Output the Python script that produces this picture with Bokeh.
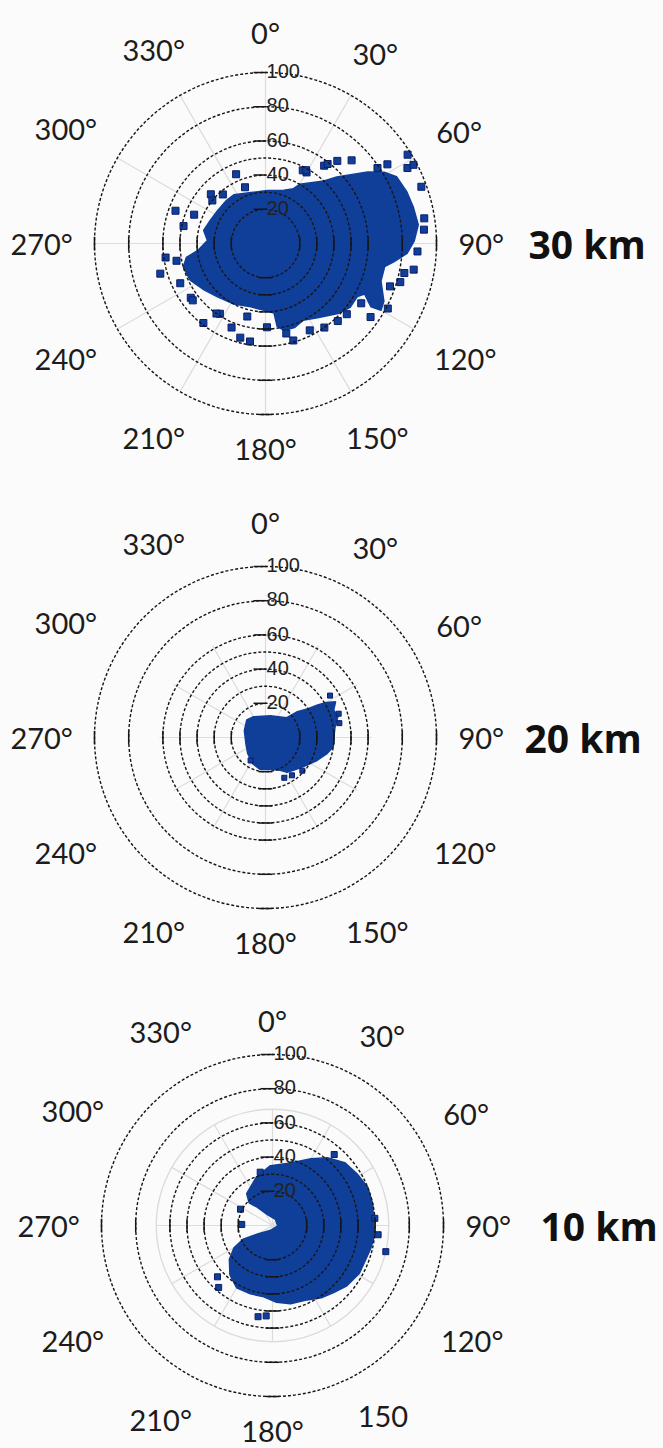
import math

from bokeh.core.properties import value
from bokeh.embed import file_html
from bokeh.layouts import column
from bokeh.models import ColumnDataSource, Range1d
from bokeh.plotting import figure
from bokeh.resources import INLINE

# ---------------------------------------------------------------- data
ANGLE_TICKS = [0, 30, 60, 90, 120, 150, 180, 210, 240, 270, 300, 330]
ANGLE_LABELS = ["0°", "30°", "60°", "90°", "120°", "150°",
                "180°", "210°", "240°", "270°", "300°", "330°"]
ANGLE_LABELS_10KM = ["0°", "30°", "60°", "90°", "120°", "150",
                     "180°", "210°", "240°", "270°", "300°", "330°"]
RING_RADII = [20, 30, 40, 50, 60, 80, 100]
RADIAL_TICKS = [20, 40, 60, 80, 100]
PANEL_NAMES = ["30 km", "20 km", "10 km"]

# outline of the dense point cloud (bearing in degrees, radius) and scattered points
C30_EDGE_DEG = [327, 344, 2, 19, 27, 30, 43, 47, 51, 55, 59, 63, 70, 76, 83, 89, 94, 98,
                101, 108, 116, 120, 121, 117, 120, 127, 134, 145, 154, 161, 168, 172, 173,
                182, 193, 208, 222, 233, 244, 254, 260, 264, 273, 282, 293, 304, 318]
C30_EDGE_R = [34, 31, 31, 33, 36, 40, 50, 57, 64, 73, 81, 86, 88, 89, 90, 87, 83, 76,
              71, 71, 77, 78, 72, 65, 62, 62, 59, 53, 50, 52, 52, 49, 41,
              39, 38, 40, 42, 45, 49, 50, 47, 40, 34, 37, 35, 34, 34]
C30_DOT_DEG = [337, 312, 290, 282, 262, 254, 234, 218, 213, 202, 195, 189, 167, 37, 30,
               41, 58, 62, 56, 81, 100, 106, 118, 122, 292, 46, 27, 153, 137,
               309, 319, 340, 29, 38, 57, 62, 70, 85, 93, 102, 109, 125, 131, 145,
               164, 179, 194, 215, 232, 245, 259]
C30_DOT_R = [44, 43, 56, 49, 59, 64, 54, 59, 49, 53, 57, 58, 54, 57, 48,
             64, 98, 94, 79, 94, 88, 82, 81, 66, 45, 70, 48, 57, 62,
             40, 38, 35, 49, 59, 85, 98, 97, 93, 89, 83, 77, 75, 63, 60,
             59, 49, 44, 50, 54, 55, 53]

C20_EDGE_DEG = [313, 330, 13, 47, 51, 56, 58, 60, 63, 68, 74, 82, 90, 98, 105, 114, 124,
                135, 148, 156, 171, 189, 207, 228, 253, 288]
C20_EDGE_R = [15, 14, 13, 17, 24, 30, 36, 41, 46, 43, 44, 41, 40, 40, 37, 33, 29,
              26, 24, 21, 19, 19, 17, 14, 12, 13]
C20_DOT_DEG = [57, 72, 79, 213, 145, 132, 155]
C20_DOT_R = [45, 45, 44, 16, 27, 29, 26]

C10_EDGE_DEG = [321, 342, 358, 16, 30, 39, 49, 59, 68, 78, 87, 95, 103, 111, 119, 129,
                138, 146, 155, 167, 177, 187, 198, 210, 221, 232, 240, 245, 240, 200,
                94, 25, 335, 320, 314]
C10_EDGE_R = [24, 30, 35, 38, 45, 51, 56, 58, 60, 60, 59, 60, 59, 58, 58, 56,
              53, 51, 48, 47, 45, 42, 42, 42, 38, 32, 26, 19, 10, 3,
              3, 4, 7, 14, 19]
C10_DOT_DEG = [347, 297, 272, 41, 95, 103, 227, 221, 189, 184, 86]
C10_DOT_R = [32, 21, 18, 55, 62, 68, 44, 48, 54, 53, 60]

# ---------------------------------------------------------------- styling
PX = 1.71                 # screen pixels per radial unit
WIDTH = 663
BG = "#fbfbfb"
CLOUD = "#103f9a"
DOT_LINE = "#0b1d6b"
RING = "#161616"
SPOKE = "#dcdcdc"
LABEL_FONT = "Lato"
LABEL_SIZE = 29


def polar(deg, r):
    xs = [ri * math.sin(math.radians(d)) for d, ri in zip(deg, r)]
    ys = [ri * math.cos(math.radians(d)) for d, ri in zip(deg, r)]
    return xs, ys


def label_positions(labels, top_extra):
    """Centre of each bearing label, pushed out by the label's own extent."""
    xs, ys = [], []
    for deg, txt in zip(ANGLE_TICKS, labels):
        digits = sum(ch.isdigit() for ch in txt)
        w = digits * 0.56 * LABEL_SIZE + (0.38 * LABEL_SIZE if "°" in txt else 0)
        s, c = math.sin(math.radians(deg)), math.cos(math.radians(deg))
        dist = 194 + 6 * abs(math.sin(math.radians(2 * deg))) + abs(s) * w / 2 + abs(c) * 11
        if deg == 0:
            dist += top_extra
        xs.append(dist * s / PX)
        ys.append(dist * c / PX)
    return xs, ys


def panel(name, name_left, labels, top_extra, edge_deg, edge_r, dot_deg, dot_r, dot_size,
          height, cx, cy, spoke_len, grey_ring):
    p = figure(width=WIDTH, height=height,
               x_range=Range1d(-cx / PX, (WIDTH - cx) / PX),
               y_range=Range1d(-(height - cy) / PX, cy / PX),
               x_axis_type=None, y_axis_type=None,
               output_backend="svg", toolbar_location=None, min_border=0)
    p.background_fill_color = BG
    p.border_fill_color = BG
    p.outline_line_color = None
    p.grid.visible = False

    # faint spokes every 30 degrees
    sx, sy = polar(ANGLE_TICKS, [spoke_len] * len(ANGLE_TICKS))
    p.segment(x0=[0] * len(sx), y0=[0] * len(sy), x1=sx, y1=sy,
              line_color=SPOKE, line_width=1.2)
    if grey_ring:
        p.circle(x=[0], y=[0], radius=[grey_ring], fill_color=None,
                 line_color=SPOKE, line_width=1.4)

    # point cloud
    ex, ey = polar(edge_deg, edge_r)
    p.patch(ex, ey, fill_color=CLOUD, line_color=CLOUD, line_width=1.5)
    dx, dy = polar(dot_deg, dot_r)
    p.scatter(dx, dy, marker="square", size=dot_size, fill_color=CLOUD,
              line_color=DOT_LINE, line_width=1)

    # dotted range rings with solid ticks on the cardinal directions
    n = len(RING_RADII)
    p.circle(x=[0] * n, y=[0] * n, radius=RING_RADII, fill_color=None,
             line_color=RING, line_width=1.4, line_dash="3 2")
    r = RING_RADII
    p.segment(x0=[-4] * n, y0=[-v for v in r], x1=[4] * n, y1=[-v for v in r],
              line_color=RING, line_width=1.5)
    p.segment(x0=r, y0=[-4] * n, x1=r, y1=[4] * n, line_color=RING, line_width=1.5)
    p.segment(x0=[-v for v in r], y0=[-4] * n, x1=[-v for v in r], y1=[4] * n,
              line_color=RING, line_width=1.5)
    m = len(RADIAL_TICKS)
    p.segment(x0=[-7] * m, y0=RADIAL_TICKS, x1=[0.5] * m, y1=RADIAL_TICKS,
              line_color=RING, line_width=1.5)
    p.text(x=[0.6] * m, y=[v + 0.8 for v in RADIAL_TICKS],
           text=[str(v) for v in RADIAL_TICKS],
           text_font=value("Liberation Sans"), text_font_size="20px",
           text_color="#222222", text_align="left", text_baseline="middle")

    # bearing labels
    lx, ly = label_positions(labels, top_extra)
    src = ColumnDataSource(dict(x=lx, y=ly, t=labels))
    p.text(x="x", y="y", text="t", source=src, text_font=value(LABEL_FONT),
           text_font_size=f"{LABEL_SIZE}px", text_color="#1c1c1c",
           text_align="center", text_baseline="middle")

    # altitude tag
    p.text(x=[(name_left - cx) / PX], y=[0], text=[name],
           text_font=value("Open Sans"), text_font_size="39px",
           text_font_style="bold", text_color="#111111",
           text_align="left", text_baseline="middle")
    return p


p1 = panel(PANEL_NAMES[0], 528, ANGLE_LABELS, 6, C30_EDGE_DEG, C30_EDGE_R,
           C30_DOT_DEG, C30_DOT_R, 7, 490, 265, 243, 100, None)
p2 = panel(PANEL_NAMES[1], 524, ANGLE_LABELS, 10, C20_EDGE_DEG, C20_EDGE_R,
           C20_DOT_DEG, C20_DOT_R, 5, 492, 265, 247, 62, None)
p3 = panel(PANEL_NAMES[2], 540, ANGLE_LABELS_10KM, 0, C10_EDGE_DEG, C10_EDGE_R,
           C10_DOT_DEG, C10_DOT_R, 6, 466, 272, 243, 68, 68)

layout = column(p1, p2, p3, spacing=0)
layout.styles = {"background-color": BG}

with open("out.html", "w") as fh:
    fh.write(file_html(layout, INLINE))
